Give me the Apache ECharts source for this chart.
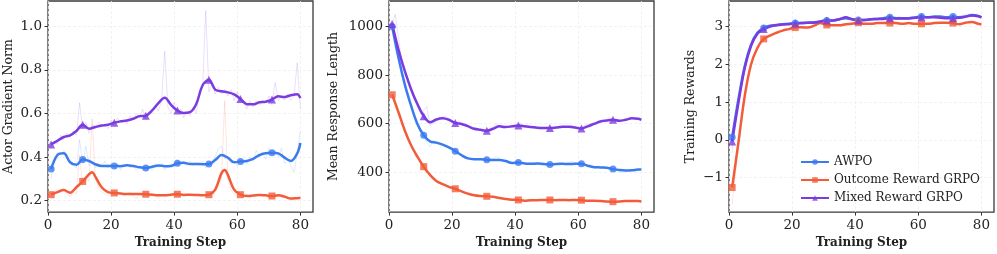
<!DOCTYPE html>
<html><head><meta charset="utf-8">
<script src="https://cdn.jsdelivr.net/npm/echarts@6/dist/echarts.min.js"></script>
<style>html,body{margin:0;padding:0;background:#fff}#c{width:997px;height:254px}</style>
</head><body><div id="c"></div>
<script>
const seriesNames = ['AWPO', 'Outcome Reward GRPO', 'Mixed Reward GRPO'];
const colors = ['#3b7bf0', '#f25c3a', '#7a3ce0'];
const symbols = ['circle', 'rect', 'triangle'];
const markerSteps = [1, 11, 21, 31, 41, 51, 61, 71];
const xTicks = [0, 20, 40, 60, 80];
const gradTicks = [0.2, 0.4, 0.6, 0.8, 1.0];
const lenTicks = [400, 600, 800, 1000];
const rewTicks = [-1, 0, 1, 2, 3];
const yTitles = ['Actor Gradient Norm', 'Mean Response Length', 'Training Rewards'];
const xTitle = 'Training Step';

// ---- Panel 1: Actor Gradient Norm (smoothed, [step, value]) ----
const gradAwpoSmooth = [[1,0.345],[3,0.409],[5,0.417],[7,0.376],[9,0.364],[11,0.389],[13,0.382],[15,0.367],[17,0.359],[19,0.359],[21,0.359],[23,0.358],[25,0.362],[27,0.359],[29,0.353],[31,0.350],[33,0.355],[35,0.361],[37,0.358],[39,0.359],[41,0.371],[43,0.374],[45,0.368],[47,0.368],[49,0.367],[51,0.368],[53,0.386],[55,0.409],[57,0.397],[59,0.376],[61,0.379],[63,0.382],[65,0.392],[67,0.409],[69,0.417],[71,0.420],[73,0.417],[75,0.397],[77,0.382],[79,0.417],[80,0.465]];
const gradOutcomeSmooth = [[1,0.227],[3,0.239],[5,0.248],[7,0.236],[9,0.261],[11,0.288],[13,0.321],[14,0.330],[15,0.310],[17,0.261],[19,0.239],[21,0.235],[23,0.232],[25,0.230],[27,0.230],[29,0.230],[31,0.229],[33,0.227],[35,0.224],[37,0.224],[39,0.227],[41,0.229],[43,0.226],[45,0.227],[47,0.226],[49,0.224],[51,0.227],[53,0.250],[55,0.326],[56,0.341],[57,0.318],[59,0.250],[61,0.227],[63,0.221],[65,0.223],[67,0.226],[69,0.224],[71,0.221],[73,0.224],[75,0.218],[77,0.209],[79,0.211],[80,0.212]];
const gradMixedSmooth = [[1,0.458],[3,0.475],[5,0.492],[7,0.500],[9,0.520],[11,0.548],[13,0.530],[15,0.538],[17,0.545],[19,0.548],[21,0.558],[23,0.564],[25,0.568],[27,0.576],[29,0.588],[31,0.590],[33,0.614],[35,0.648],[37,0.673],[39,0.640],[41,0.614],[43,0.602],[45,0.606],[47,0.644],[49,0.730],[51,0.755],[53,0.710],[55,0.702],[57,0.697],[59,0.688],[61,0.667],[63,0.643],[65,0.642],[67,0.652],[69,0.654],[71,0.664],[73,0.679],[75,0.676],[77,0.684],[79,0.689],[80,0.671]];
// raw (steps 1..80)
const gradAwpoRaw = [0.30,0.39,0.42,0.41,0.43,0.40,0.37,0.36,0.35,0.48,0.37,0.45,0.36,0.38,0.35,0.37,0.36,0.38,0.35,0.37,0.35,0.37,0.34,0.36,0.37,0.35,0.36,0.34,0.36,0.34,0.35,0.36,0.34,0.37,0.35,0.37,0.34,0.36,0.37,0.36,0.39,0.37,0.38,0.36,0.38,0.36,0.37,0.36,0.38,0.35,0.37,0.38,0.40,0.44,0.45,0.39,0.40,0.37,0.38,0.36,0.38,0.39,0.37,0.40,0.38,0.43,0.40,0.42,0.39,0.44,0.41,0.43,0.40,0.44,0.37,0.39,0.36,0.33,0.42,0.52];
const gradOutcomeRaw = [0.22,0.23,0.25,0.24,0.25,0.23,0.22,0.24,0.23,0.41,0.27,0.30,0.29,0.576,0.30,0.26,0.24,0.23,0.24,0.23,0.24,0.23,0.24,0.22,0.23,0.24,0.22,0.21,0.23,0.22,0.24,0.22,0.23,0.22,0.21,0.23,0.22,0.23,0.22,0.24,0.23,0.22,0.23,0.22,0.23,0.22,0.23,0.22,0.23,0.21,0.23,0.22,0.24,0.26,0.30,0.659,0.30,0.25,0.23,0.22,0.23,0.22,0.23,0.21,0.23,0.22,0.23,0.22,0.23,0.21,0.22,0.23,0.22,0.23,0.21,0.22,0.20,0.21,0.21,0.22];
const gradMixedRaw = [0.45,0.47,0.46,0.50,0.48,0.51,0.49,0.52,0.50,0.65,0.53,0.56,0.51,0.55,0.53,0.56,0.54,0.55,0.53,0.57,0.55,0.58,0.56,0.57,0.55,0.59,0.57,0.60,0.58,0.62,0.57,0.61,0.60,0.64,0.61,0.66,0.886,0.63,0.60,0.65,0.60,0.62,0.58,0.61,0.59,0.63,0.60,0.70,0.72,1.073,0.70,0.74,0.69,0.72,0.69,0.71,0.68,0.71,0.66,0.70,0.65,0.66,0.62,0.66,0.63,0.66,0.64,0.66,0.65,0.68,0.64,0.743,0.66,0.68,0.66,0.69,0.66,0.68,0.834,0.62];

// ---- Panel 2: Mean Response Length ----
const lenAwpoSmooth = [[1,1000],[3,871],[5,762],[7,674],[9,599],[11,552],[13,527],[15,522],[17,514],[19,502],[21,487],[23,470],[25,457],[27,454],[29,454],[31,451],[33,450],[35,450],[37,446],[39,438],[41,440],[43,436],[45,435],[47,436],[49,434],[51,432],[53,434],[55,435],[57,434],[59,435],[61,435],[63,427],[65,421],[67,420],[69,419],[71,413],[73,409],[75,407],[77,408],[79,411],[80,411]];
const lenOutcomeSmooth = [[1,719],[3,647],[5,572],[7,511],[9,464],[11,423],[13,389],[15,364],[17,351],[19,340],[21,332],[23,321],[25,312],[27,305],[29,302],[31,301],[33,299],[35,294],[37,290],[39,287],[41,286],[43,283],[45,285],[47,285],[49,286],[51,286],[53,285],[55,286],[57,285],[59,286],[61,285],[63,283],[65,283],[67,282],[69,280],[71,279],[73,280],[75,282],[77,282],[79,282],[80,280]];
const lenMixedSmooth = [[1,1010],[3,905],[5,817],[7,742],[9,681],[11,631],[13,606],[15,617],[17,622],[19,616],[21,603],[23,599],[25,590],[27,579],[29,575],[31,571],[33,579],[35,589],[37,586],[39,589],[41,593],[43,589],[45,586],[47,583],[49,582],[51,582],[53,584],[55,587],[57,587],[59,584],[61,580],[63,589],[65,599],[67,609],[69,613],[71,616],[73,612],[75,616],[77,622],[79,620],[80,616]];
const lenAwpoRaw = [[1,1000],[2,960],[4,800],[6,710],[8,630],[10,580],[12,520],[13,505],[14,530],[16,520],[18,505],[20,495],[22,478],[24,460],[26,455],[28,452],[30,455],[32,448],[34,465],[36,445],[38,440],[40,442],[42,438],[44,432],[46,440],[48,430],[50,438],[52,428],[54,440],[56,435],[58,445],[60,430],[62,428],[64,420],[66,418],[68,425],[70,415],[72,410],[74,400],[76,412],[78,405],[80,412]];
const lenOutcomeRaw = [[1,725],[2,700],[4,600],[6,540],[8,485],[10,440],[12,405],[14,375],[16,355],[18,345],[20,335],[22,325],[24,315],[26,308],[28,303],[30,300],[32,298],[34,295],[36,292],[38,288],[40,286],[42,284],[44,286],[46,283],[48,287],[50,285],[52,284],[54,288],[56,284],[58,286],[60,285],[62,283],[64,284],[66,281],[68,280],[70,279],[72,278],[74,281],[76,282],[78,280],[80,280]];
const lenMixedRaw = [[1,1010],[2,1050],[4,860],[6,780],[8,700],[10,640],[12,670],[13,590],[14,600],[16,625],[18,630],[20,605],[22,610],[24,595],[26,585],[28,580],[30,570],[32,575],[34,600],[36,580],[38,590],[40,585],[42,600],[44,582],[46,590],[48,578],[50,585],[52,580],[54,590],[56,583],[58,595],[60,578],[62,592],[64,600],[66,605],[68,612],[70,625],[72,610],[74,615],[76,625],[78,618],[80,615]];

// ---- Panel 3: Training Rewards ----
const rewAwpoSmooth = [[1,0.07],[3,1.08],[5,1.95],[7,2.52],[9,2.83],[11,2.96],[13,3.02],[15,3.04],[17,3.06],[19,3.07],[21,3.09],[23,3.09],[25,3.10],[27,3.11],[29,3.13],[31,3.16],[33,3.16],[35,3.19],[37,3.22],[39,3.19],[41,3.17],[43,3.17],[45,3.19],[47,3.20],[49,3.22],[51,3.24],[53,3.22],[55,3.22],[57,3.22],[59,3.24],[61,3.26],[63,3.24],[65,3.26],[67,3.26],[69,3.24],[71,3.26],[73,3.24],[75,3.26],[77,3.30],[79,3.28],[80,3.24]];
const rewOutcomeSmooth = [[1,-1.26],[3,-0.06],[5,1.17],[7,2.00],[9,2.43],[11,2.67],[13,2.76],[15,2.83],[17,2.89],[19,2.93],[21,2.97],[23,2.98],[25,2.97],[27,3.02],[29,3.09],[31,3.04],[33,3.03],[35,3.03],[37,3.06],[39,3.07],[41,3.10],[43,3.07],[45,3.07],[47,3.09],[49,3.09],[51,3.09],[53,3.09],[55,3.07],[57,3.09],[59,3.07],[61,3.07],[63,3.07],[65,3.09],[67,3.10],[69,3.10],[71,3.09],[73,3.06],[75,3.10],[77,3.12],[79,3.07],[80,3.05]];
const rewMixedSmooth = [[1,-0.04],[3,0.99],[5,1.91],[7,2.49],[9,2.81],[11,2.93],[13,3.00],[15,3.03],[17,3.05],[19,3.06],[21,3.08],[23,3.09],[25,3.10],[27,3.10],[29,3.13],[31,3.16],[33,3.16],[35,3.19],[37,3.24],[39,3.19],[41,3.16],[43,3.17],[45,3.19],[47,3.20],[49,3.20],[51,3.22],[53,3.21],[55,3.21],[57,3.21],[59,3.23],[61,3.24],[63,3.24],[65,3.24],[67,3.23],[69,3.22],[71,3.22],[73,3.23],[75,3.26],[77,3.29],[79,3.27],[80,3.24]];
const rewAwpoRaw = [[1,-0.35],[2,0.5],[4,1.6],[6,2.3],[8,2.75],[10,2.92],[12,3.0],[14,3.05],[16,3.0],[18,3.08],[20,3.05],[22,3.1],[24,3.08],[26,3.12],[28,3.1],[30,3.15],[32,3.13],[34,3.18],[36,3.2],[38,3.22],[40,3.15],[42,3.2],[44,3.18],[46,3.22],[48,3.2],[50,3.24],[52,3.22],[54,3.26],[56,3.2],[58,3.27],[60,3.23],[62,3.26],[64,3.24],[66,3.28],[68,3.23],[70,3.27],[72,3.23],[74,3.28],[76,3.33],[78,3.27],[80,3.22]];
const rewOutcomeRaw = [[1,-1.7],[2,-0.9],[4,0.5],[6,1.6],[8,2.25],[10,2.55],[12,2.72],[14,2.8],[16,2.86],[18,2.9],[20,2.96],[22,2.98],[24,2.95],[26,3.0],[28,3.08],[30,3.05],[32,3.02],[34,3.05],[36,3.01],[38,3.08],[40,3.06],[42,3.1],[44,3.05],[46,3.09],[48,3.07],[50,3.1],[52,3.08],[54,3.05],[56,3.1],[58,3.06],[60,3.08],[62,3.05],[64,3.08],[66,3.1],[68,3.12],[70,3.08],[72,3.05],[74,3.08],[76,3.13],[78,3.1],[80,3.05]];
const rewMixedRaw = [[1,-0.2],[2,0.45],[4,1.55],[6,2.25],[8,2.7],[10,2.9],[12,3.0],[14,3.02],[16,3.05],[18,3.04],[20,3.08],[22,3.07],[24,3.1],[26,3.09],[28,3.12],[30,3.14],[32,3.15],[34,3.17],[36,3.2],[38,3.25],[40,3.15],[42,3.18],[44,3.2],[46,3.19],[48,3.22],[50,3.2],[52,3.23],[54,3.2],[56,3.24],[58,3.22],[60,3.25],[62,3.23],[64,3.26],[66,3.22],[68,3.24],[70,3.21],[72,3.25],[74,3.3],[76,3.26],[78,3.28],[80,3.24]];

const FONT = 'DejaVu Serif';
const toPairs = arr => arr.map((v, i) => [i + 1, v]);
const panels = [
  { smooth: [gradAwpoSmooth, gradOutcomeSmooth, gradMixedSmooth], raw: [toPairs(gradAwpoRaw), toPairs(gradOutcomeRaw), toPairs(gradMixedRaw)],
    ticks: gradTicks, min: 0.147, max: 1.117, fmt: v => v.toFixed(1), left: 48, nameGap: 33 },
  { smooth: [lenAwpoSmooth, lenOutcomeSmooth, lenMixedSmooth], raw: [lenAwpoRaw, lenOutcomeRaw, lenMixedRaw],
    ticks: lenTicks, min: 236, max: 1105, fmt: v => String(v), left: 389, nameGap: 49 },
  { smooth: [rewAwpoSmooth, rewOutcomeSmooth, rewMixedSmooth], raw: [rewAwpoRaw, rewOutcomeRaw, rewMixedRaw],
    ticks: rewTicks, min: -1.91, max: 3.673, fmt: v => v < 0 ? '\u2212' + Math.abs(v) : String(v), left: 729, nameGap: 32 }
];

const grids = [], xAxes = [], yAxes = [], series = [];
const gridLine = { show: true, lineStyle: { color: '#efefef', width: 0.8, type: [3, 2] } };
panels.forEach((p, gi) => {
  grids.push({ left: p.left, top: 1, width: 265, height: 213, show: true, borderColor: '#3a3a3a', borderWidth: 1.3, containLabel: false });
  xAxes.push({
    type: 'value', gridIndex: gi, min: 0, max: 84,
    name: xTitle, nameLocation: 'middle', nameGap: 22,
    nameTextStyle: { fontFamily: FONT, fontSize: 12, fontWeight: 'bold', color: '#222' },
    axisLine: { show: false, onZero: false },
    axisTick: { show: true, length: 3.5, lineStyle: { color: '#333', width: 1 }, customValues: xTicks },
    axisLabel: { fontFamily: FONT, fontSize: 13.5, color: '#222', margin: 6, customValues: xTicks },
    splitLine: gridLine
  });
  yAxes.push({
    type: 'value', gridIndex: gi, min: p.min, max: p.max,
    name: yTitles[gi], nameLocation: 'middle', nameGap: p.nameGap,
    nameTextStyle: { fontFamily: FONT, fontSize: 12.5, color: '#222' },
    axisLine: { show: false, onZero: false },
    axisTick: { show: true, length: 3.5, lineStyle: { color: '#333', width: 1 }, customValues: p.ticks },
    axisLabel: { fontFamily: FONT, fontSize: 13.5, color: '#222', margin: 6, customValues: p.ticks, formatter: p.fmt },
    splitLine: gridLine
  });
  p.raw.forEach((d, si) => {
    series.push({
      type: 'line', name: seriesNames[si] + ' raw', xAxisIndex: gi, yAxisIndex: gi,
      data: d, symbol: 'none', silent: true, z: 1,
      lineStyle: { color: colors[si], width: 1, opacity: 0.16 }
    });
  });
});
panels.forEach((p, gi) => {
  p.smooth.forEach((d, si) => {
    series.push({
      type: 'line', name: seriesNames[si], xAxisIndex: gi, yAxisIndex: gi, z: 3,
      smooth: 0.35, symbol: symbols[si], symbolSize: si === 2 ? 8 : 7, showSymbol: true,
      data: d.map(([s, v]) => ({ value: [s, v], symbol: markerSteps.includes(s) ? symbols[si] : 'none' })),
      lineStyle: { color: colors[si], width: 2.5 },
      itemStyle: { color: colors[si], opacity: 0.8 },
      emphasis: { disabled: true }
    });
  });
});

const chart = echarts.init(document.getElementById('c'), null, { renderer: 'canvas' });
chart.setOption({
  animation: false,
  backgroundColor: '#fff',
  grid: grids, xAxis: xAxes, yAxis: yAxes, series,
  legend: {
    data: seriesNames, orient: 'vertical', left: 795, top: 150,
    itemWidth: 28, itemHeight: 7, itemGap: 4,
    textStyle: { fontFamily: FONT, fontSize: 12, color: '#222', lineHeight: 14 },
    selectedMode: false
  }
});
</script></body></html>
